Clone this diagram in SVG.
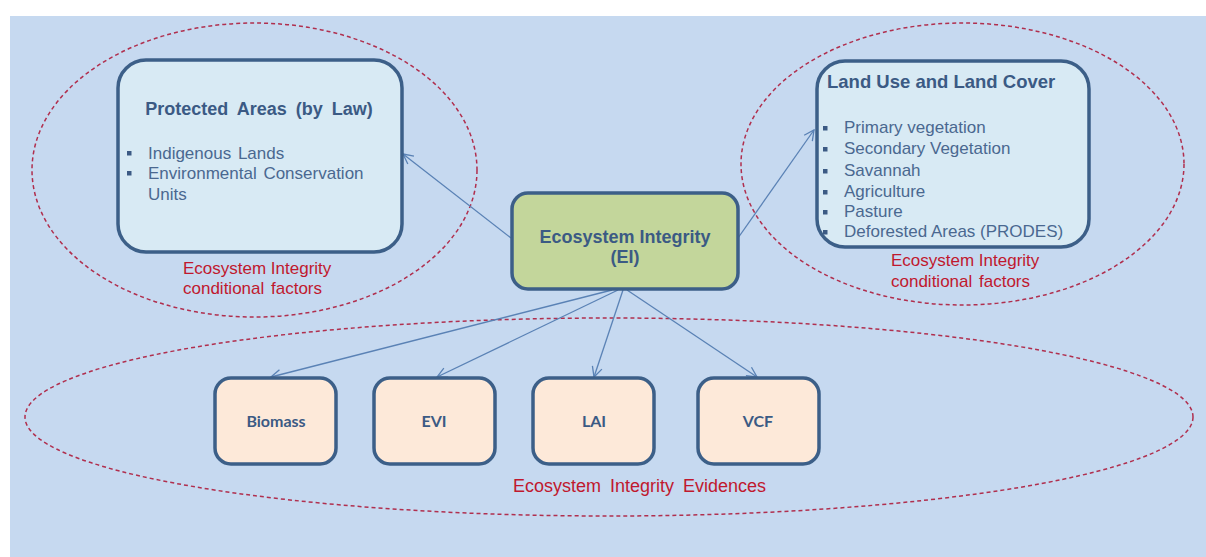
<svg xmlns="http://www.w3.org/2000/svg" width="1206" height="557" viewBox="0 0 1206 557">
<style>
.box{stroke:#3c5f88;stroke-width:3.5}
.oval{fill:none;stroke:#b02f4e;stroke-width:1.5;stroke-dasharray:4 3}
.title{font-family:"Liberation Sans",Arial,sans-serif;font-weight:bold;fill:#3b5a84}
.item{font-family:"Liberation Sans",Arial,sans-serif;font-size:17px;fill:#4a6890}
.red{font-family:"Liberation Sans",Arial,sans-serif;fill:#c0182e}
.small{font-family:Lato,"Liberation Sans",sans-serif;font-weight:bold;font-size:16px;fill:#3b5a84;text-anchor:middle}
.conn{stroke:#5a82b5;stroke-width:1.3;fill:none;marker-end:url(#arr)}
.bul{fill:#3b5a84}
</style>
<defs>
<marker id="arr" markerUnits="userSpaceOnUse" viewBox="0 0 12 12" refX="11" refY="6" markerWidth="12" markerHeight="12" orient="auto">
<path d="M1,1 L11,6 L1,11" fill="none" stroke="#5a82b5" stroke-width="1.3"/>
</marker>
</defs>
<rect x="0" y="0" width="1206" height="557" fill="#ffffff"/>
<rect x="10" y="16" width="1196" height="541" fill="#c6d9f0"/>

<g id="ovals">
<ellipse class="oval" cx="254.5" cy="170" rx="222.5" ry="147"/>
<ellipse class="oval" cx="962.5" cy="164" rx="221.5" ry="141"/>
<ellipse class="oval" cx="609" cy="417" rx="584" ry="99"/>
</g>

<g id="connectors">
<line class="conn" x1="511" y1="238" x2="403" y2="154"/>
<line class="conn" x1="738" y1="238" x2="814" y2="130"/>
<line class="conn" x1="612" y1="290" x2="271" y2="377"/>
<line class="conn" x1="618" y1="290" x2="437" y2="377"/>
<line class="conn" x1="623" y1="290" x2="594" y2="377"/>
<line class="conn" x1="627" y1="290" x2="757" y2="377"/>
</g>

<g id="protected-areas">
<rect class="box" x="118" y="60" width="284" height="192" rx="28" fill="#d8eaf4"/>
<text class="title" x="259" y="115" font-size="18" text-anchor="middle" word-spacing="4">Protected Areas (by Law)</text>
<rect class="bul" x="127" y="151" width="4.5" height="4.5"/>
<rect class="bul" x="127" y="171" width="4.5" height="4.5"/>
<text class="item" x="148" y="159" word-spacing="2">Indigenous Lands</text>
<text class="item" x="148" y="179" word-spacing="2">Environmental Conservation</text>
<text class="item" x="148" y="200">Units</text>
<text class="red" x="183" y="274" font-size="17">Ecosystem Integrity</text>
<text class="red" x="183" y="294" font-size="17" word-spacing="2">conditional factors</text>
</g>

<g id="land-use">
<rect class="box" x="817" y="61" width="272" height="186" rx="28" fill="#d8eaf4"/>
<text class="title" x="827" y="88" font-size="18.5">Land Use and Land Cover</text>
<rect class="bul" x="823" y="126" width="4.5" height="4.5"/>
<rect class="bul" x="823" y="147" width="4.5" height="4.5"/>
<rect class="bul" x="823" y="169" width="4.5" height="4.5"/>
<rect class="bul" x="823" y="190" width="4.5" height="4.5"/>
<rect class="bul" x="823" y="210" width="4.5" height="4.5"/>
<rect class="bul" x="823" y="230" width="4.5" height="4.5"/>
<text class="item" x="844" y="133">Primary vegetation</text>
<text class="item" x="844" y="154">Secondary Vegetation</text>
<text class="item" x="844" y="176">Savannah</text>
<text class="item" x="844" y="197">Agriculture</text>
<text class="item" x="844" y="217">Pasture</text>
<text class="item" x="844" y="237">Deforested Areas (PRODES)</text>
<text class="red" x="891" y="266" font-size="17">Ecosystem Integrity</text>
<text class="red" x="891" y="287" font-size="17" word-spacing="2">conditional factors</text>
</g>

<g id="ecosystem-integrity">
<rect class="box" x="512" y="193" width="226" height="96" rx="16" fill="#c3d69b"/>
<text class="title" x="625" y="243" font-size="18" text-anchor="middle">Ecosystem Integrity</text>
<text class="title" x="625" y="263" font-size="18" text-anchor="middle">(EI)</text>
</g>

<g id="biomass">
<rect class="box" x="215" y="378" width="121" height="86" rx="16" fill="#fde9d9"/>
<text class="small" x="276" y="427">Biomass</text>
</g>
<g id="evi">
<rect class="box" x="374" y="378" width="121" height="86" rx="16" fill="#fde9d9"/>
<text class="small" x="434" y="427">EVI</text>
</g>
<g id="lai">
<rect class="box" x="533" y="378" width="121" height="86" rx="16" fill="#fde9d9"/>
<text class="small" x="594" y="427">LAI</text>
</g>
<g id="vcf">
<rect class="box" x="698" y="378" width="121" height="86" rx="16" fill="#fde9d9"/>
<text class="small" x="758" y="427">VCF</text>
</g>

<g id="evidences-label">
<text class="red" x="513" y="492" font-size="18" word-spacing="4">Ecosystem Integrity Evidences</text>
</g>
</svg>
